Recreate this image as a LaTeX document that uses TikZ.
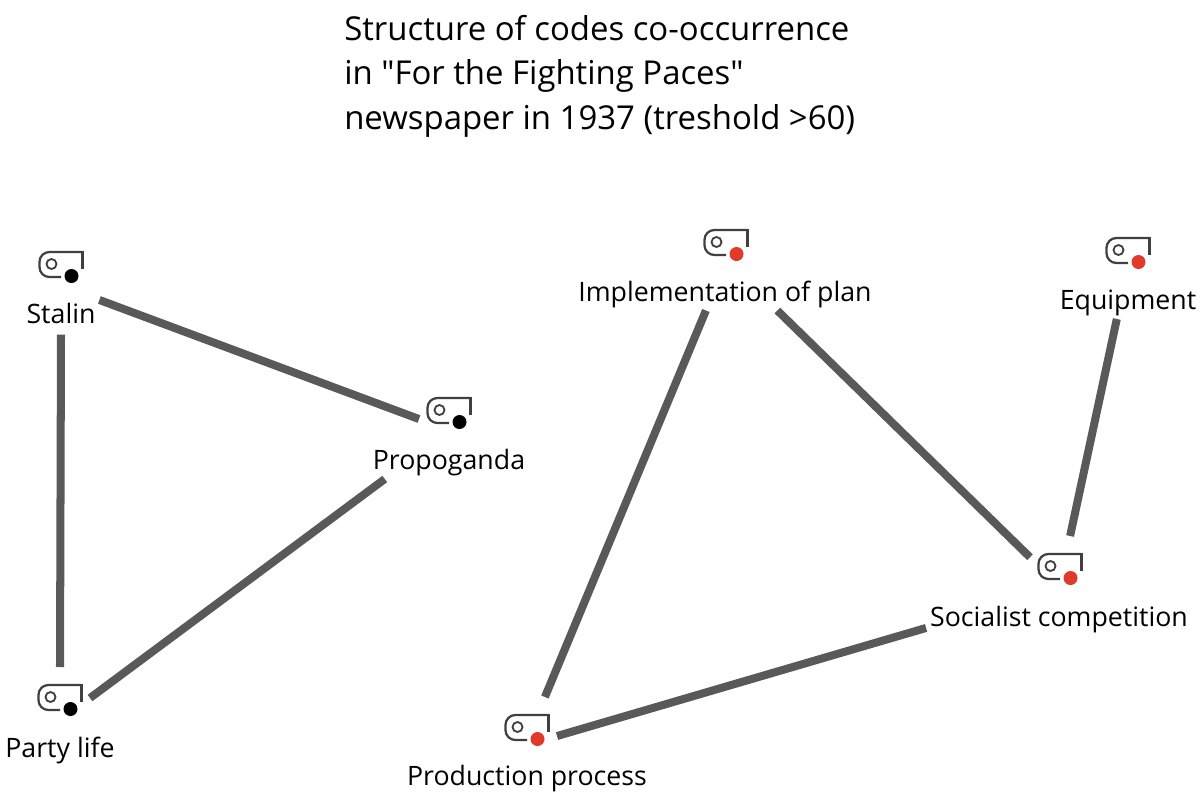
\documentclass[tikz,border=0pt]{standalone}
\usepackage{fontspec}
\setmainfont[Ligatures=TeXOff]{Open Sans}
\usepackage{xcolor}
\definecolor{custom_line}{HTML}{595959}
\definecolor{custom_icon}{HTML}{404040}
\definecolor{custom_red}{HTML}{E03A2A}
\tikzset{
    codelabel/.style={inner sep=0pt, outer sep=0pt, text height=0.45cm, text depth=0.125cm, minimum height=0.8cm, font=\fontsize{19}{23}\selectfont},
    codeicon/.style={inner sep=0pt, outer sep=0pt, minimum width=1.5cm, minimum height=1.55cm},
    codelink/.style={line width=5.7pt, custom_line},
    pics/codetag/.style={code={
        \draw[line width=1.6pt, custom_icon, rounded corners=7pt] (0,12) -- (-21.5,12) -- (-21.5,-13) -- (21.5,-13);
        \draw[line width=1.6pt, custom_icon] (21.5,-13.7) -- (21.5,4);
        \draw[line width=1.3pt, custom_icon] (-9.5,-1) circle (5);
        \fill[#1] (10.5,11) circle (7);
    }}
}
\begin{document}
\begin{tikzpicture}[x=0.025cm, y=-0.025cm]
    \useasboundingbox (0,0) rectangle (1200,797);

    % Title
    \node[anchor=north west, inner sep=0pt, align=left, font=\fontsize{23.4}{31.5}\selectfont] (title) at (344,15)
        {Structure of codes co-occurrence\\in "For the Fighting Paces"\\newspaper in 1937 (treshold >60)};

    % Code icons
    \node[codeicon] (stalinIcon) at (61,265) {};
    \node[codeicon] (propogandaIcon) at (449,411) {};
    \node[codeicon] (partyIcon) at (60,698) {};
    \node[codeicon] (implementationIcon) at (726,243) {};
    \node[codeicon] (equipmentIcon) at (1128,251) {};
    \node[codeicon] (socialistIcon) at (1060,567) {};
    \node[codeicon] (productionIcon) at (527,728) {};
    \pic at (stalinIcon) {codetag=black};
    \pic at (propogandaIcon) {codetag=black};
    \pic at (partyIcon) {codetag=black};
    \pic at (implementationIcon) {codetag=custom_red};
    \pic at (equipmentIcon) {codetag=custom_red};
    \pic at (socialistIcon) {codetag=custom_red};
    \pic at (productionIcon) {codetag=custom_red};

    % Code labels
    \node[codelabel, minimum height=0.9cm] (stalin) at (61,316.5) {Stalin};
    \node[codelabel] (propoganda) at (449,463) {Propoganda};
    \node[codelabel] (party) at (60,750.5) {Party life};
    \node[codelabel] (implementation) at (725,294.5) {Implementation of plan};
    \node[codelabel] (equipment) at (1128,303) {Equipment};
    \node[codelabel] (socialist) at (1059,620) {Socialist competition};
    \node[codelabel] (production) at (527,779) {Production process};

    % Links between codes
    \draw[codelink, shorten <=3pt] (stalin.north east) -- (propogandaIcon.195);
    \draw[codelink] (stalin.south) -- (partyIcon.north);
    \draw[codelink] (propoganda.194.5) -- (partyIcon.east);
    \draw[codelink] (implementation.220) -- (productionIcon.60);
    \draw[codelink] (implementation.343) -- (socialistIcon.162);
    \draw[codelink] (equipment.235) -- (socialistIcon.72);
    \draw[codelink, shorten <=3pt] (socialist.183) -- (productionIcon.345);
\end{tikzpicture}
\end{document}
